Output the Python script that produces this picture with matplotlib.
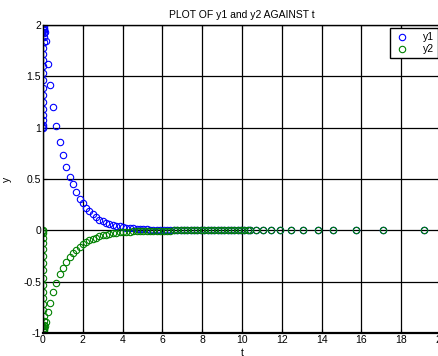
import matplotlib
matplotlib.use('Agg')
import matplotlib.pyplot as plt

plt.rcParams['font.family'] = ['Liberation Sans', 'DejaVu Sans']

# fast transient near t = 0 followed by slow decay
t = [0.0, 0.001, 0.002, 0.003, 0.004, 0.005, 0.006, 0.008, 0.010, 0.012, 0.014,
     0.016, 0.019, 0.022, 0.025, 0.028, 0.032, 0.036, 0.040, 0.045, 0.050,
     0.06, 0.08, 0.13, 0.24, 0.35, 0.52, 0.67, 0.84, 1.00, 1.17, 1.34, 1.51,
     1.67, 1.84, 2.00, 2.16, 2.33, 2.50, 2.66, 2.83, 3.00, 3.17, 3.34, 3.51,
     3.68, 3.85, 4.02, 4.19, 4.36, 4.53, 4.70, 4.87, 5.04, 5.21, 5.38, 5.55,
     5.72, 5.89, 6.06, 6.23, 6.40, 6.57, 6.74, 6.91, 7.08, 7.25, 7.42, 7.59,
     7.76, 7.93, 8.10, 8.27, 8.44, 8.61, 8.78, 8.95, 9.12, 9.29, 9.46, 9.62,
     9.78, 9.95, 10.10, 10.28, 10.42, 10.70, 11.07, 11.46, 11.93, 12.45, 13.07,
     13.80, 14.59, 15.73, 17.10, 19.13]

y1 = [1.00, 1.01, 1.03, 1.07, 1.12, 1.18, 1.25, 1.32, 1.39, 1.46, 1.53,
      1.60, 1.66, 1.72, 1.78, 1.83, 1.88, 1.92, 1.95, 1.97, 1.99,
      1.96, 1.93, 1.84, 1.62, 1.42, 1.20, 1.02, 0.86, 0.73, 0.62, 0.52, 0.45,
      0.37, 0.31, 0.27, 0.22, 0.185, 0.156, 0.127, 0.104, 0.088, 0.075, 0.061, 0.052,
      0.045, 0.038, 0.032, 0.027, 0.023, 0.019, 0.016, 0.013, 0.011, 0.009, 0.008, 0.007,
      0.006, 0.005, 0.004, 0.004, 0.003, 0.003, 0.002, 0.002, 0.002, 0.001, 0.001, 0.001,
      0.001, 0.001, 0.0, 0.0, 0.0, 0.0, 0.0, 0.0, 0.0, 0.0, 0.0, 0.0,
      0.0, 0.0, 0.0, 0.0, 0.0, 0.0, 0.0, 0.0, 0.0, 0.0, 0.0,
      0.0, 0.0, 0.0, 0.0, 0.0]

y2 = [0.00, -0.01, -0.03, -0.07, -0.12, -0.18, -0.25, -0.32, -0.39, -0.46, -0.53,
      -0.60, -0.66, -0.72, -0.78, -0.83, -0.88, -0.92, -0.95, -0.97, -0.99,
      -0.96, -0.93, -0.89, -0.80, -0.71, -0.60, -0.51, -0.43, -0.37, -0.31, -0.26, -0.22,
      -0.19, -0.16, -0.135, -0.115, -0.097, -0.082, -0.070, -0.059, -0.050, -0.042, -0.035, -0.030,
      -0.025, -0.021, -0.018, -0.015, -0.013, -0.011, -0.009, -0.008, -0.006, -0.005, -0.005, -0.004,
      -0.003, -0.003, -0.002, -0.002, -0.002, -0.001, -0.001, -0.001, -0.001, -0.001, 0.0, 0.0,
      0.0, 0.0, 0.0, 0.0, 0.0, 0.0, 0.0, 0.0, 0.0, 0.0, 0.0, 0.0,
      0.0, 0.0, 0.0, 0.0, 0.0, 0.0, 0.0, 0.0, 0.0, 0.0, 0.0,
      0.0, 0.0, 0.0, 0.0, 0.0]

xticks = list(range(0, 21, 2))
yticks = [-1, -0.5, 0, 0.5, 1, 1.5, 2]
ytick_labels = ['-1', '-0.5', '0', '0.5', '1', '1.5', '2']

fig = plt.figure(figsize=(4.38, 3.56), dpi=100)
ax = fig.add_axes([43 / 438, 23 / 356, 398 / 438, 308 / 356])

ax.plot(t, y1, 'o', color=(0, 0, 1), mfc='none', ms=4.6, mew=0.8, label='y1')
ax.plot(t, y2, 'o', color=(0, 0.5, 0), mfc='none', ms=4.6, mew=0.8, label='y2')

ax.set_xlim(0, 20)
ax.set_ylim(-1, 2)
ax.set_xticks(xticks)
ax.set_xticklabels([str(v) for v in xticks])
ax.set_yticks(yticks)
ax.set_yticklabels(ytick_labels)
ax.grid(True, color='black', linewidth=0.9, linestyle='-')
ax.set_axisbelow(True)
ax.tick_params(direction='in', length=3, width=0.8, labelsize=7.5, pad=1.5,
               top=True, right=True)
for sp in ax.spines.values():
    sp.set_linewidth(1.0)
ax.spines['bottom'].set_linewidth(1.6)

ax.set_title('PLOT OF y1 and y2 AGAINST t', fontsize=7.5, pad=5)
ax.set_xlabel('t', fontsize=7.5, labelpad=2)
ax.set_ylabel('y', fontsize=7.5, labelpad=8)

leg = ax.legend(loc='upper right', bbox_to_anchor=(0.9925, 0.99), fontsize=7.5,
                fancybox=False, framealpha=1, edgecolor='black',
                handlelength=1.5, handletextpad=1.2, borderpad=0.4,
                labelspacing=0.2, borderaxespad=0)
leg.get_frame().set_linewidth(1.0)

fig.savefig('out.png', dpi=100)
